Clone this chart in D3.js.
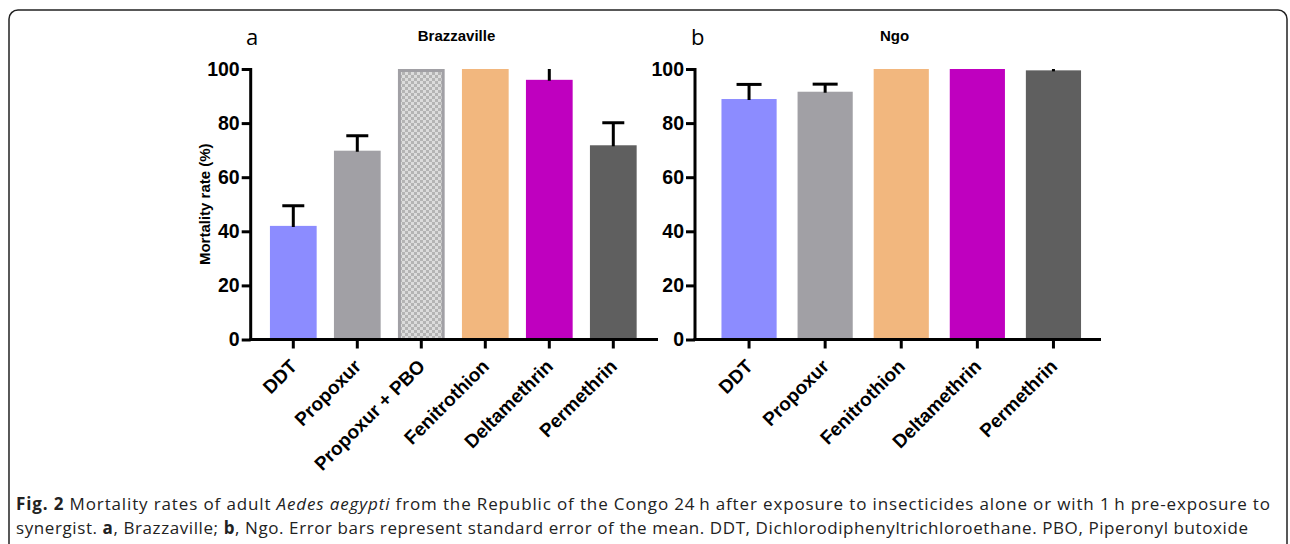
<!DOCTYPE html>
<html>
<head>
<meta charset="utf-8">
<script src="https://cdn.jsdelivr.net/npm/d3@7"></script>
<style>
  body { margin: 0; background: #fff; }
  svg { display: block; }
</style>
</head>
<body>
<svg width="1290" height="544"></svg>
<script>
// data
const insecticidesA = ['DDT', 'Propoxur', 'Propoxur + PBO', 'Fenitrothion', 'Deltamethrin', 'Permethrin'];
const mortalityA = [42, 69.8, 100, 100, 96, 71.8];
const errTopA = [49.4, 75.3, null, null, 103, 80.1];

const insecticidesB = ['DDT', 'Propoxur', 'Fenitrothion', 'Deltamethrin', 'Permethrin'];
const mortalityB = [88.9, 91.6, 100, 100, 99.5];
const errTopB = [94.3, 94.4, null, null, 100.8];

const yTicks = [0, 20, 40, 60, 80, 100];

const colours = {
  'DDT': '#8c8cff',
  'Propoxur': '#a1a0a5',
  'Propoxur + PBO': 'url(#checker)',
  'Fenitrothion': '#f2b77e',
  'Deltamethrin': '#bf00bf',
  'Permethrin': '#5f5f5f'
};

const svg = d3.select('svg');

// checker pattern for the synergist bar
const defs = svg.append('defs');
const pat = defs.append('pattern')
  .attr('id', 'checker')
  .attr('patternUnits', 'userSpaceOnUse')
  .attr('width', 6).attr('height', 6);
pat.append('rect').attr('width', 6).attr('height', 6).attr('fill', '#dcdcdc');
pat.append('rect').attr('width', 3).attr('height', 3).attr('fill', '#b4b4b4');
pat.append('rect').attr('x', 3).attr('y', 3).attr('width', 3).attr('height', 3).attr('fill', '#b4b4b4');

// figure frame
svg.append('rect')
  .attr('x', 9).attr('y', 10)
  .attr('width', 1278).attr('height', 560)
  .attr('rx', 9)
  .attr('fill', 'none')
  .attr('stroke', '#222')
  .attr('stroke-width', 1.5);

const yScale = d3.scaleLinear().domain([0, 100]).range([339.5, 69]);

function drawPanel(opt) {
  const g = svg.append('g');

  const xScale = d3.scaleBand()
    .domain(opt.cats)
    .range(opt.band)
    .paddingInner(opt.pad)
    .paddingOuter(opt.pad / 2);

  // clip so error bars stop at the top of the axis
  defs.append('clipPath').attr('id', 'clip' + opt.id)
    .append('rect')
    .attr('x', opt.axisX0).attr('y', yScale(100))
    .attr('width', opt.axisX1 - opt.axisX0).attr('height', 300);

  // bars (the hatched one gets its outline drawn inside the bar)
  const inset = d => d === 'Propoxur + PBO' ? 1.5 : 0;
  g.selectAll('rect.bar')
    .data(opt.cats)
    .join('rect')
    .attr('class', 'bar')
    .attr('x', d => xScale(d) + inset(d))
    .attr('y', (d, i) => yScale(opt.values[i]) + inset(d))
    .attr('width', d => xScale.bandwidth() - 2 * inset(d))
    .attr('height', (d, i) => yScale(0) - yScale(opt.values[i]) - inset(d))
    .attr('fill', d => colours[d])
    .attr('stroke', d => d === 'Propoxur + PBO' ? '#a1a0a5' : 'none')
    .attr('stroke-width', 3);

  // error bars
  const eg = g.append('g').attr('clip-path', `url(#clip${opt.id})`);
  opt.cats.forEach((d, i) => {
    if (opt.err[i] == null) return;
    const cx = xScale(d) + xScale.bandwidth() / 2;
    eg.append('line')
      .attr('x1', cx).attr('x2', cx)
      .attr('y1', yScale(opt.values[i]) + 1).attr('y2', yScale(opt.err[i]))
      .attr('stroke', '#000').attr('stroke-width', 3);
    eg.append('line')
      .attr('x1', cx - opt.cap / 2).attr('x2', cx + opt.cap / 2)
      .attr('y1', yScale(opt.err[i])).attr('y2', yScale(opt.err[i]))
      .attr('stroke', '#000').attr('stroke-width', 3);
  });

  // y axis
  const yAxis = g.append('g')
    .attr('transform', `translate(${opt.axisX0},0)`)
    .call(d3.axisLeft(yScale).tickValues(yTicks).tickSize(9).tickPadding(2));
  yAxis.select('.domain').remove();
  yAxis.selectAll('.tick line').attr('stroke', '#000').attr('stroke-width', 3);
  yAxis.selectAll('.tick text')
    .attr('font-family', 'Liberation Sans, Arial, sans-serif')
    .attr('font-weight', 'bold')
    .attr('font-size', 19.5)
    .attr('fill', '#000');
  g.append('line')
    .attr('x1', opt.axisX0).attr('x2', opt.axisX0)
    .attr('y1', yScale(100) - 1).attr('y2', yScale(0) + 1.5)
    .attr('stroke', '#000').attr('stroke-width', 3);

  // x axis
  const xAxis = g.append('g')
    .attr('transform', `translate(0,${yScale(0)})`)
    .call(d3.axisBottom(xScale).tickSize(9).tickPadding(2));
  xAxis.select('.domain').remove();
  xAxis.selectAll('.tick line').attr('stroke', '#000').attr('stroke-width', 3);
  xAxis.selectAll('.tick text')
    .attr('font-family', 'Liberation Sans, Arial, sans-serif')
    .attr('font-weight', 'bold')
    .attr('font-size', 19)
    .attr('fill', '#000')
    .attr('text-anchor', 'end')
    .attr('x', 0).attr('y', 0)
    .attr('dy', null)
    .attr('transform', 'translate(5,28) rotate(-45)');
  g.append('line')
    .attr('x1', opt.axisX0 - 1.5).attr('x2', opt.axisX1)
    .attr('y1', yScale(0)).attr('y2', yScale(0))
    .attr('stroke', '#000').attr('stroke-width', 3);

  // panel letter and title
  g.append('text')
    .attr('x', opt.letterX).attr('y', 45)
    .attr('font-family', 'Open Sans, sans-serif')
    .attr('font-size', 22)
    .text(opt.letter);
  g.append('text')
    .attr('x', opt.titleX).attr('y', 41)
    .attr('text-anchor', 'middle')
    .attr('font-family', 'Liberation Sans, Arial, sans-serif')
    .attr('font-weight', 'bold')
    .attr('font-size', 15)
    .text(opt.title);
}

drawPanel({
  id: 'a', cats: insecticidesA, values: mortalityA, err: errTopA,
  band: [261.3, 645.3], pad: 0.27, cap: 22,
  axisX0: 250.7, axisX1: 658,
  letter: 'a', letterX: 246, title: 'Brazzaville', titleX: 456.5
});

drawPanel({
  id: 'b', cats: insecticidesB, values: mortalityB, err: errTopB,
  band: [711, 1091.5], pad: 0.275, cap: 25,
  axisX0: 695, axisX1: 1101,
  letter: 'b', letterX: 691, title: 'Ngo', titleX: 894.5
});

// y axis title (panel a only)
svg.append('text')
  .attr('transform', `translate(210,${(yScale(0) + yScale(100)) / 2}) rotate(-90)`)
  .attr('text-anchor', 'middle')
  .attr('font-family', 'Liberation Sans, Arial, sans-serif')
  .attr('font-weight', 'bold')
  .attr('font-size', 15)
  .text('Mortality rate (%)');

// caption
const cap1 = svg.append('text')
  .attr('x', 16).attr('y', 510)
  .attr('textLength', 1254).attr('lengthAdjust', 'spacing')
  .attr('font-family', 'Open Sans, sans-serif')
  .attr('font-size', 17)
  .attr('fill', '#222');
cap1.append('tspan').attr('font-weight', 'bold').text('Fig. 2');
cap1.append('tspan').text(' Mortality rates of adult ');
cap1.append('tspan').attr('font-style', 'italic').text('Aedes aegypti');
cap1.append('tspan').text(' from the Republic of the Congo 24\u2009h after exposure to insecticides alone or with 1\u2009h pre-exposure to');

const cap2 = svg.append('text')
  .attr('x', 16).attr('y', 534)
  .attr('textLength', 1232).attr('lengthAdjust', 'spacing')
  .attr('font-family', 'Open Sans, sans-serif')
  .attr('font-size', 17)
  .attr('fill', '#222');
cap2.append('tspan').text('synergist. ');
cap2.append('tspan').attr('font-weight', 'bold').text('a');
cap2.append('tspan').text(', Brazzaville; ');
cap2.append('tspan').attr('font-weight', 'bold').text('b');
cap2.append('tspan').text(', Ngo. Error bars represent standard error of the mean. DDT, Dichlorodiphenyltrichloroethane. PBO, Piperonyl butoxide');
</script>
</body>
</html>
